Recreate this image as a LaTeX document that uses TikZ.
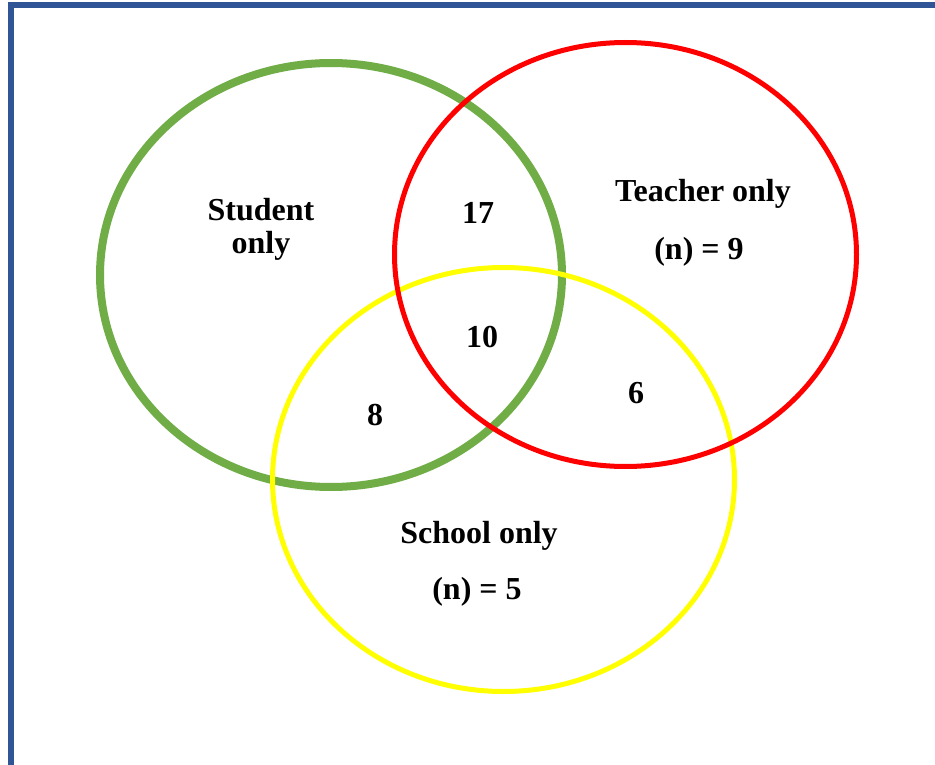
\documentclass[tikz,border=0pt]{standalone}
\usepackage{fontspec}
\setmainfont{Liberation Serif}
\usetikzlibrary{shapes.geometric}
\definecolor{vgreen}{RGB}{112,173,71}
\definecolor{vred}{RGB}{255,0,0}
\definecolor{vyellow}{RGB}{255,255,0}
\definecolor{vblue}{RGB}{47,85,151}
\begin{document}
\begin{tikzpicture}[x=1pt,y=-1pt,
  setring/.style={ellipse, draw, inner sep=0pt, minimum width=462pt, minimum height=424pt},
  lbl/.style={anchor=base, inner sep=0pt, font=\fontsize{32}{36}\selectfont\bfseries}]
\useasboundingbox (0,0) rectangle (935,765);
\fill[white] (0,0) rectangle (935,765);
% frame
\draw[vblue, line width=6pt] (10.5,765) -- (10.5,4.7) -- (935,4.7);
% sets
\node[setring, vgreen, line width=8pt] (student) at (331,275) {};
\node[setring, vyellow, line width=5pt] (school) at (503.5,479.5) {};
\node[setring, vred, line width=5pt] (teacher) at (625.5,254.5) {};
% labels
\node[lbl] (st1) at (261,220) {Student};
\node[lbl] (st2) at (261,253) {only};
\node[lbl] (n17) at (478,223) {17};
\node[lbl] (te1) at (703,202) {Teacher only};
\node[lbl] (te2) at (699,259) {(n) = 9};
\node[lbl] (n10) at (482,347) {10};
\node[lbl] (n8) at (375,425) {8};
\node[lbl] (n6) at (636,403) {6};
\node[lbl] (sc1) at (479,543) {School only};
\node[lbl] (sc2) at (477,599) {(n) = 5};
\end{tikzpicture}
\end{document}
